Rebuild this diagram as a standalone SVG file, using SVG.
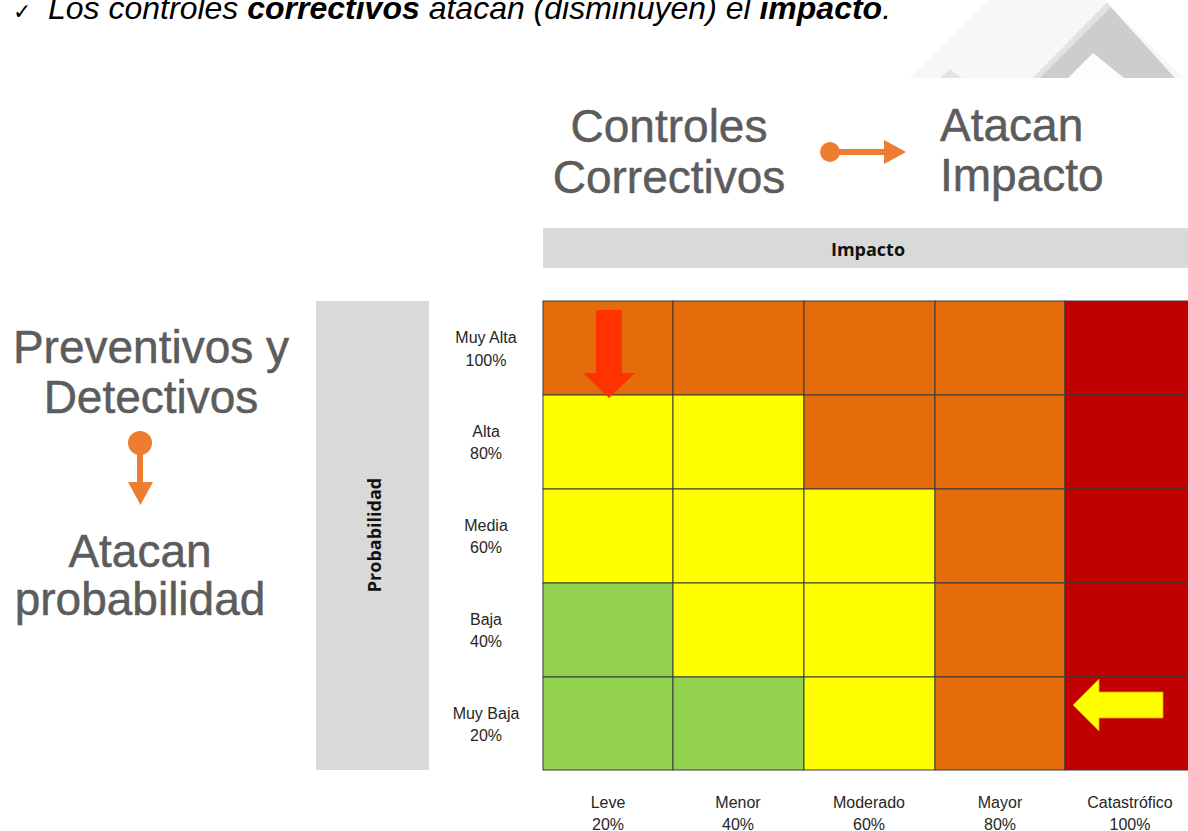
<svg xmlns="http://www.w3.org/2000/svg" width="1188" height="831" viewBox="0 0 1188 831">
<style>
.big{font-family:"Liberation Sans",Arial,sans-serif;font-size:46px;fill:#5c5c5c;stroke:#5c5c5c;stroke-width:0.5;text-anchor:middle}
.lbl{font-family:"Liberation Sans",Arial,sans-serif;font-size:16px;fill:#262626;text-anchor:middle}
.hdr{font-family:"Open Sans","Liberation Sans",sans-serif;font-weight:700;font-size:18px;fill:#111;text-anchor:middle}
.o{fill:#E46C0A}.r{fill:#C00000}.y{fill:#FFFF00}.g{fill:#92D050}
.cell{stroke:#3a3a3a;stroke-width:1}
.lol{fill:#ED7D31}
</style>
<rect width="1188" height="831" fill="#fff"/>
<g id="decoration">
<polygon points="910,78 988,0 1105,0 1183,78" fill="#f7f7f7"/>
<polygon points="1033,78 1107,3 1175,78" fill="#cdcdcd"/>
<polygon points="1033,78 1107,3 1111,7 1040,78" fill="#e2e2e2"/>
<polygon points="1068,78 1093,53 1124,78" fill="#fdfdfd"/>
<polygon points="940,78 950,69 962,78" fill="#e4e4e4"/>
</g>
<g id="note">
<text x="13" y="19" font-family="DejaVu Sans,sans-serif" font-size="22" fill="#000">✓</text>
<text x="48" y="19" font-family="Liberation Sans,Arial,sans-serif" font-style="italic" font-size="32" fill="#000">Los controles <tspan font-weight="bold">correctivos</tspan> atacan (disminuyen) el <tspan font-weight="bold">impacto</tspan>.</text>
</g>
<g id="correctivos">
<text class="big" x="669" y="142">Controles</text>
<text class="big" x="669" y="193">Correctivos</text>
</g>
<g id="atacan-impacto">
<text class="big" x="940" y="141" style="text-anchor:start">Atacan</text>
<text class="big" x="940" y="191" style="text-anchor:start">Impacto</text>
</g>
<g id="preventivos">
<text class="big" x="151" y="363">Preventivos y</text>
<text class="big" x="151" y="413">Detectivos</text>
</g>
<g id="atacan-probabilidad">
<text class="big" x="140" y="567">Atacan</text>
<text class="big" x="140" y="615">probabilidad</text>
</g>
<g id="connectors">
<circle class="lol" cx="830" cy="152" r="10"/>
<rect class="lol" x="830" y="149" width="56" height="6"/>
<polygon class="lol" points="884,140 906,152 884,164"/>
<circle class="lol" cx="140" cy="443" r="12"/>
<rect class="lol" x="137" y="443" width="6" height="41"/>
<polygon class="lol" points="128,482 153,482 140.5,505"/>
</g>
<g id="impacto-header">
<rect x="543" y="228" width="645" height="40" fill="#d9d9d9"/>
<text class="hdr" x="868" y="256">Impacto</text>
</g>
<g id="probabilidad-header">
<rect x="316" y="301" width="113" height="469" fill="#d9d9d9"/>
<text class="hdr" x="0" y="0" transform="translate(381,535) rotate(-90)">Probabilidad</text>
</g>
<g id="matrix">
<rect class="cell o" x="543" y="301" width="130" height="94"/>
<rect class="cell o" x="673" y="301" width="131" height="94"/>
<rect class="cell o" x="804" y="301" width="131" height="94"/>
<rect class="cell o" x="935" y="301" width="130" height="94"/>
<rect class="cell r" x="1065" y="301" width="131" height="94"/>
<rect class="cell y" x="543" y="395" width="130" height="94"/>
<rect class="cell y" x="673" y="395" width="131" height="94"/>
<rect class="cell o" x="804" y="395" width="131" height="94"/>
<rect class="cell o" x="935" y="395" width="130" height="94"/>
<rect class="cell r" x="1065" y="395" width="131" height="94"/>
<rect class="cell y" x="543" y="489" width="130" height="94"/>
<rect class="cell y" x="673" y="489" width="131" height="94"/>
<rect class="cell y" x="804" y="489" width="131" height="94"/>
<rect class="cell o" x="935" y="489" width="130" height="94"/>
<rect class="cell r" x="1065" y="489" width="131" height="94"/>
<rect class="cell g" x="543" y="583" width="130" height="94"/>
<rect class="cell y" x="673" y="583" width="131" height="94"/>
<rect class="cell y" x="804" y="583" width="131" height="94"/>
<rect class="cell o" x="935" y="583" width="130" height="94"/>
<rect class="cell r" x="1065" y="583" width="131" height="94"/>
<rect class="cell g" x="543" y="677" width="130" height="93"/>
<rect class="cell g" x="673" y="677" width="131" height="93"/>
<rect class="cell y" x="804" y="677" width="131" height="93"/>
<rect class="cell o" x="935" y="677" width="130" height="93"/>
<rect class="cell r" x="1065" y="677" width="131" height="93"/>
</g>
<g id="arrow-down">
<polygon points="596,310 622,310 622,373 635,373 609,398 583,373 596,373" fill="#FF3300"/>
</g>
<g id="arrow-left">
<polygon points="1163,692 1163,718 1099,718 1099,731 1073,705 1099,679 1099,692" fill="#FFFF00" stroke="#E8A000" stroke-width="0.8"/>
</g>
<g id="row-labels">
<text class="lbl" x="486" y="343">Muy Alta</text><text class="lbl" x="486" y="366">100%</text>
<text class="lbl" x="486" y="437">Alta</text><text class="lbl" x="486" y="459">80%</text>
<text class="lbl" x="486" y="531">Media</text><text class="lbl" x="486" y="553">60%</text>
<text class="lbl" x="486" y="625">Baja</text><text class="lbl" x="486" y="647">40%</text>
<text class="lbl" x="486" y="719">Muy Baja</text><text class="lbl" x="486" y="741">20%</text>
</g>
<g id="col-labels">
<text class="lbl" x="608" y="808">Leve</text><text class="lbl" x="608" y="830">20%</text>
<text class="lbl" x="738" y="808">Menor</text><text class="lbl" x="738" y="830">40%</text>
<text class="lbl" x="869" y="808">Moderado</text><text class="lbl" x="869" y="830">60%</text>
<text class="lbl" x="1000" y="808">Mayor</text><text class="lbl" x="1000" y="830">80%</text>
<text class="lbl" x="1130" y="808">Catastrófico</text><text class="lbl" x="1130" y="830">100%</text>
</g>
</svg>
